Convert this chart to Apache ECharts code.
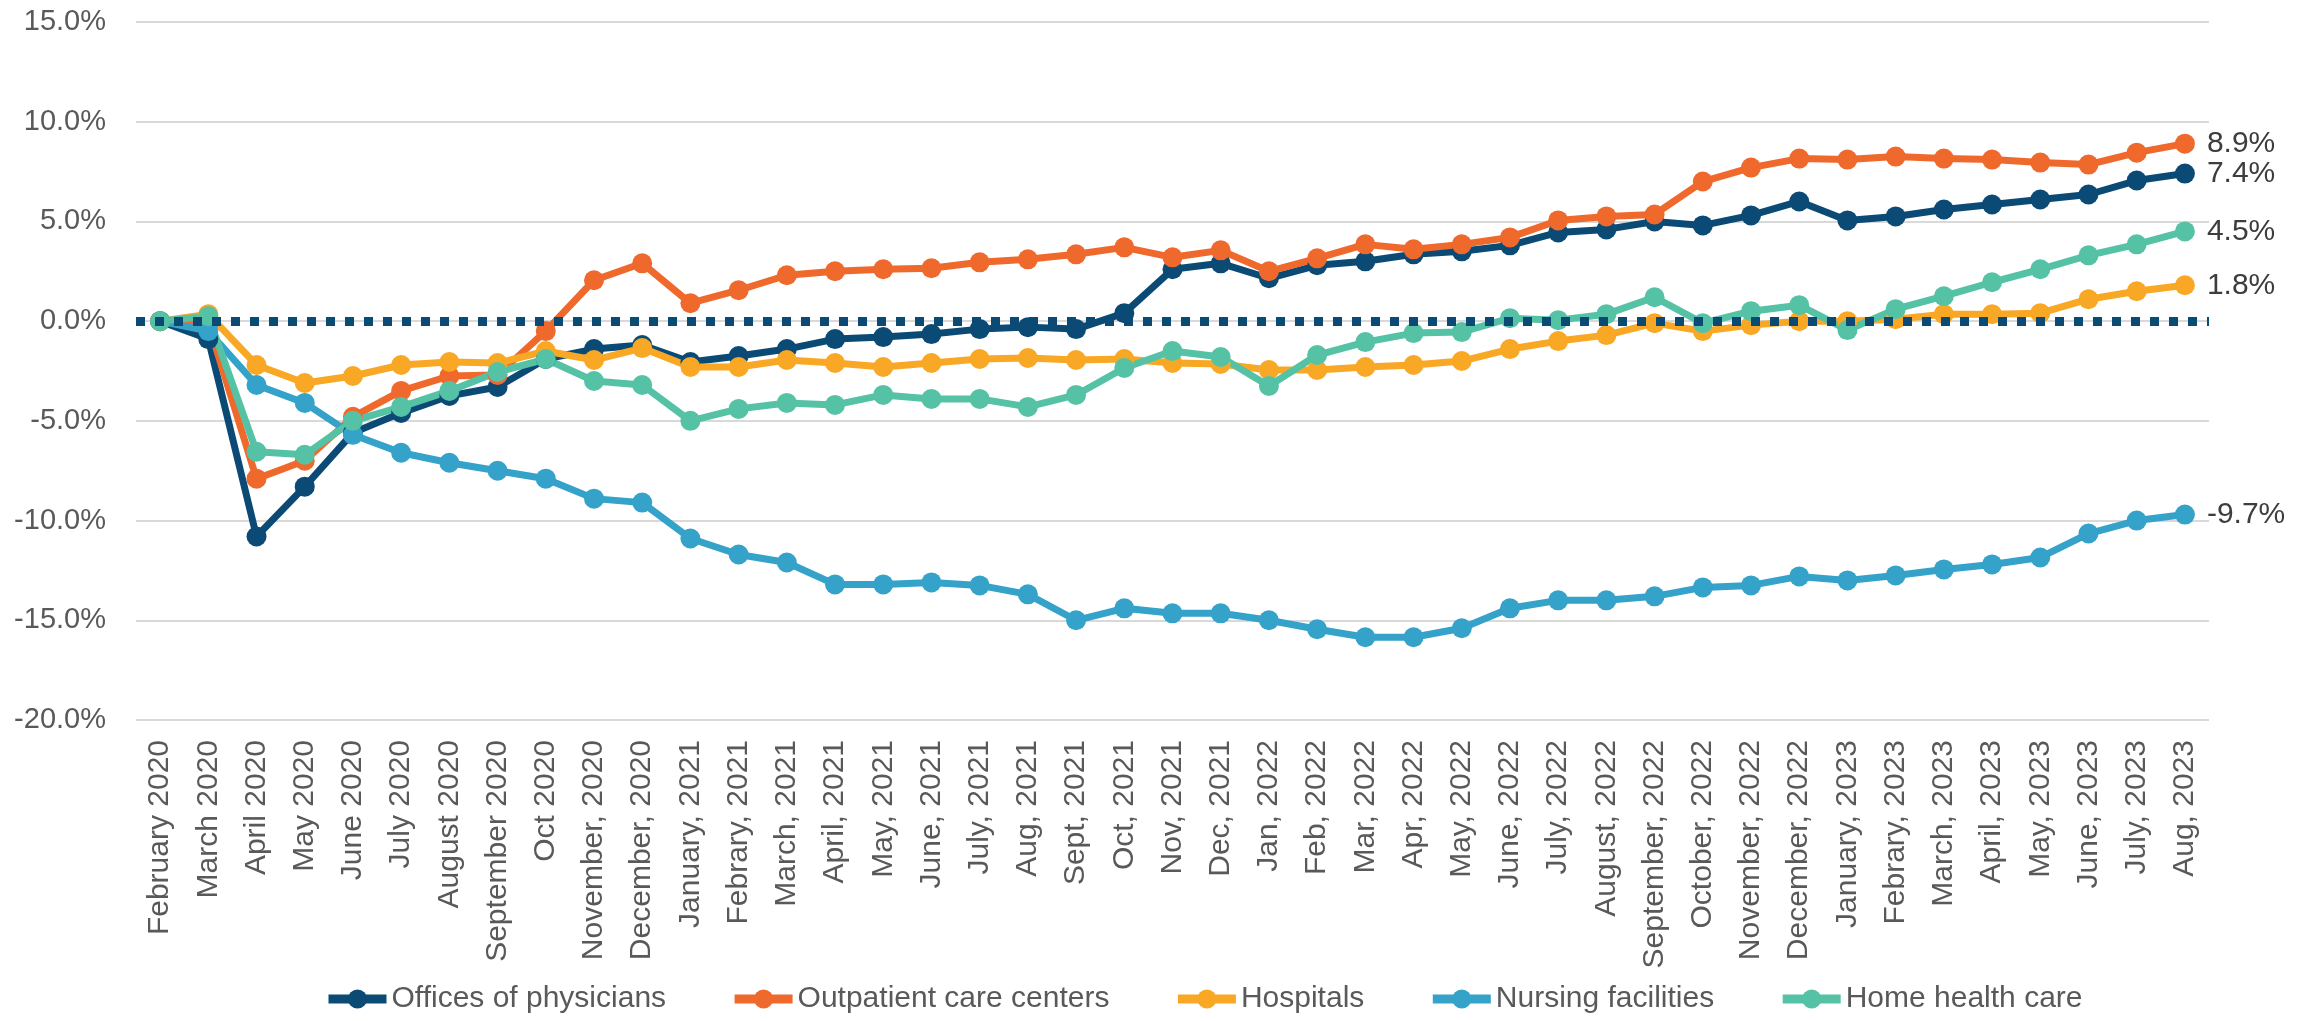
<!DOCTYPE html>
<html>
<head>
<meta charset="utf-8">
<script src="https://cdn.jsdelivr.net/npm/echarts@6/dist/echarts.min.js"></script>
<style>
  html, body { margin: 0; padding: 0; background: #fff; }
  #chart { width: 2313px; height: 1021px; }
</style>
</head>
<body>
<div id="chart"></div>
<script>
// month labels, as written on the original axis
const months = [
  "February 2020", "March 2020", "April 2020", "May 2020", "June 2020", "July 2020",
  "August 2020", "September 2020", "Oct 2020", "November, 2020", "December, 2020",
  "January, 2021", "Febrary, 2021", "March, 2021", "April, 2021", "May, 2021",
  "June, 2021", "July, 2021", "Aug, 2021", "Sept, 2021", "Oct, 2021", "Nov, 2021",
  "Dec, 2021", "Jan, 2022", "Feb, 2022", "Mar, 2022", "Apr, 2022", "May, 2022",
  "June, 2022", "July, 2022", "August, 2022", "September, 2022", "October, 2022",
  "November, 2022", "December, 2022", "January, 2023", "Febrary, 2023", "March, 2023",
  "April, 2023", "May, 2023", "June, 2023", "July, 2023", "Aug, 2023"
];

// % change since February 2020
const physicians = [
  0, -0.9, -10.8, -8.3, -5.6, -4.6, -3.75, -3.3, -1.9, -1.4, -1.2,
  -2.05, -1.75, -1.4, -0.9, -0.8, -0.65, -0.4, -0.3, -0.4, 0.4, 2.6,
  2.9, 2.15, 2.8, 3.0, 3.35, 3.5, 3.8, 4.45, 4.6, 5.0, 4.8,
  5.3, 6.0, 5.05, 5.25, 5.6, 5.85, 6.1, 6.35, 7.05, 7.4
];
const outpatient = [
  0, -0.1, -7.9, -7.0, -4.8, -3.5, -2.75, -2.7, -0.5, 2.05, 2.9,
  0.9, 1.55, 2.3, 2.5, 2.6, 2.65, 2.95, 3.1, 3.35, 3.7, 3.2,
  3.55, 2.5, 3.15, 3.85, 3.6, 3.85, 4.2, 5.05, 5.25, 5.35, 7.0,
  7.7, 8.15, 8.1, 8.25, 8.15, 8.1, 7.95, 7.85, 8.45, 8.9
];
const hospitals = [
  0, 0.35, -2.2, -3.1, -2.75, -2.2, -2.05, -2.1, -1.5, -1.95, -1.35,
  -2.3, -2.3, -1.95, -2.1, -2.3, -2.1, -1.9, -1.85, -1.95, -1.9, -2.1,
  -2.15, -2.45, -2.45, -2.3, -2.2, -2.0, -1.4, -1.0, -0.7, -0.1, -0.5,
  -0.2, 0.0, 0.0, 0.1, 0.35, 0.35, 0.4, 1.1, 1.5, 1.8
];
const nursing = [
  0, -0.5, -3.2, -4.1, -5.7, -6.6, -7.1, -7.5, -7.9, -8.9, -9.1,
  -10.9, -11.7, -12.1, -13.2, -13.2, -13.1, -13.25, -13.7, -15.0, -14.4, -14.65,
  -14.65, -15.0, -15.45, -15.85, -15.85, -15.4, -14.4, -14.0, -14.0, -13.8, -13.35,
  -13.25, -12.8, -13.0, -12.75, -12.45, -12.2, -11.85, -10.65, -10.0, -9.7
];
const homeHealth = [
  0, 0.25, -6.55, -6.7, -5.0, -4.3, -3.5, -2.55, -1.9, -3.0, -3.2,
  -5.0, -4.4, -4.1, -4.2, -3.7, -3.9, -3.9, -4.3, -3.7, -2.35, -1.5,
  -1.8, -3.25, -1.7, -1.05, -0.6, -0.55, 0.15, 0.05, 0.35, 1.2, -0.1,
  0.5, 0.8, -0.45, 0.6, 1.25, 1.95, 2.6, 3.3, 3.85, 4.5
];

const seriesNames = ["Offices of physicians", "Outpatient care centers", "Hospitals", "Nursing facilities", "Home health care"];
const seriesColors = ["#0b4a75", "#f0692c", "#f9a825", "#35a2c9", "#55c2a6"];
const seriesData = [physicians, outpatient, hospitals, nursing, homeHealth];

const font = "Liberation Sans, Arial, sans-serif";
const myChart = echarts.init(document.getElementById("chart"));

let series = seriesData.map((d, i) => ({
  name: seriesNames[i],
  type: "line",
  data: d,
  symbol: "circle",
  symbolSize: 20,
  color: seriesColors[i],
  lineStyle: { width: 7, color: seriesColors[i] },
  endLabel: {
    show: true,
    distance: 22,
    color: "#3d3d3d",
    fontSize: 30,
    fontFamily: font,
    formatter: (p) => Number(p.value).toFixed(1) + "%",
  },
}));

// dotted zero line, drawn over the last series
series[series.length - 1].markLine = {
  silent: true,
  symbol: ["none", "none"],
  label: { show: false },
  lineStyle: { color: "#0b4a75", width: 9, type: [9, 10], opacity: 1 },
  emphasis: { disabled: true },
  data: [{ yAxis: 0 }],
};

let option = {
  animation: false,
  backgroundColor: "#fff",
  grid: { left: 136, right: 104, top: 22, bottom: 301 },
  legend: {
    bottom: 2,
    left: 319,
    itemWidth: 58,
    itemHeight: 24,
    itemGap: 64,
    lineStyle: { width: 9 },
    textStyle: { color: "#595959", fontSize: 30, fontFamily: font },
    data: seriesNames,
  },
  xAxis: {
    type: "category",
    data: months,
    boundaryGap: true,
    axisLine: { show: false },
    axisTick: { show: false },
    axisLabel: {
      interval: 0,
      rotate: 90,
      margin: 20,
      color: "#595959",
      fontSize: 30,
      fontFamily: font,
    },
  },
  yAxis: {
    type: "value",
    min: -20,
    max: 15,
    interval: 5,
    axisLine: { show: false },
    axisTick: { show: false },
    splitLine: { lineStyle: { color: "#d9d9d9", width: 2 } },
    axisLabel: {
      margin: 30,
      color: "#595959",
      fontSize: 29,
      fontFamily: font,
      formatter: (v) => v.toFixed(1) + "%",
    },
  },
  series: series,
};

option && myChart.setOption(option);
</script>
</body>
</html>
